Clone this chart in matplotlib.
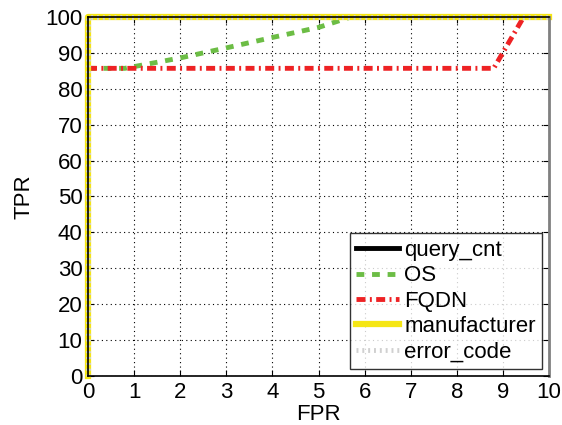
import numpy as np
import matplotlib
matplotlib.use("Agg")
import matplotlib.pyplot as plt

plt.rcParams['font.family'] = ['Liberation Sans', 'DejaVu Sans']

# ROC curves (FPR %, TPR %)
qc_fpr = [0, 0, 10]
qc_tpr = [0, 100, 100]
os_fpr = [0, 0.8, 2, 3, 4, 5, 5.7, 10]
os_tpr = [85.7, 85.7, 88.6, 91.4, 94.3, 97.1, 100, 100]
fqdn_fpr = [0, 8.8, 9.45, 10]
fqdn_tpr = [85.7, 85.7, 100, 100]
man_fpr = [0, 0, 10]
man_tpr = [0, 100, 100]
err_fpr = [0, 0, 10]
err_tpr = [0, 100, 100]

fig = plt.figure(figsize=(5.62, 4.25), dpi=100)
ax = fig.add_axes([0.1566, 0.1153, 0.8203, 0.8447])

ax.plot(qc_fpr, qc_tpr, color='black', lw=3.5, label='query_cnt', clip_on=False)
ax.plot(os_fpr, os_tpr, color='#6cbd45', lw=3.5, ls=(0, (1.6, 1.6)), label='OS')
ax.plot(fqdn_fpr, fqdn_tpr, color='#ee2224', lw=3.5, ls=(0, (1.85, 0.9, 0.4, 0.9)), label='FQDN')
ax.plot(man_fpr, man_tpr, color='#f5e614', lw=4.5, label='manufacturer', clip_on=False)
ax.plot(err_fpr, err_tpr, color='#d0d0d0', lw=3.5, ls=(0, (0.4, 0.8)), label='error_code', clip_on=False)

ax.set_xlim(0, 10)
ax.set_ylim(0, 100)
ax.set_xticks(np.arange(0, 11, 1))
ax.set_yticks(np.arange(0, 101, 10))
ax.grid(True, color='black', ls=(0, (1, 3)), lw=0.8)
ax.tick_params(direction='in', top=True, right=True, labelsize=16, length=4, pad=4)
ax.set_xlabel('FPR', fontsize=16, labelpad=1)
ax.set_ylabel('TPR', fontsize=16, labelpad=8)
for s in ax.spines.values():
    s.set_linewidth(1.2)
ax.spines['right'].set_color('#808080')
ax.spines['right'].set_linewidth(2)

leg = ax.legend(loc='lower right', fontsize=16, frameon=True, fancybox=False,
                edgecolor='black', handlelength=1.9, handletextpad=0.25,
                labelspacing=0.2, borderpad=0.3, borderaxespad=0.3)
leg.get_frame().set_linewidth(1.0)

fig.savefig('out.png', dpi=100)
